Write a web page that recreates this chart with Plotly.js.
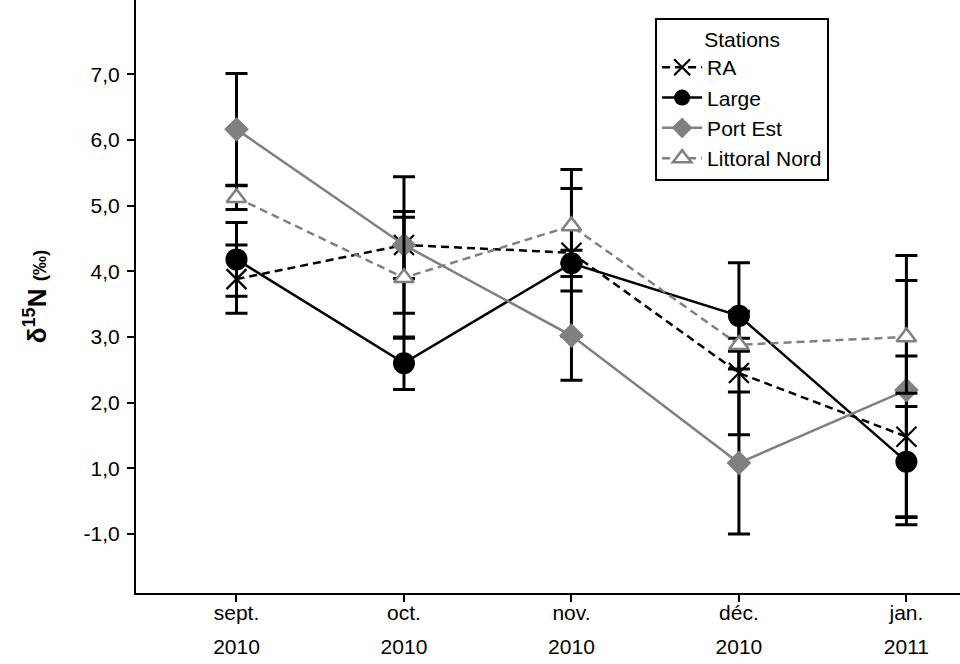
<!DOCTYPE html>
<html>
<head>
<meta charset="utf-8">
<script src="https://cdn.plot.ly/plotly-3.0.1.min.js"></script>
<style>html,body{margin:0;padding:0;background:#fff;}#chart{width:960px;height:664px;}</style>
</head>
<body>
<div id="chart"></div>
<script>
// ---- data ----
const months = ['sept.', 'oct.', 'nov.', 'déc.', 'jan.'];
const years = ['2010', '2010', '2010', '2010', '2011'];

const raMean = [3.88, 4.40, 4.28, 2.45, 1.48];
const raErr = [0.52, 1.04, 1.27, 0.94, 1.23];

const largeMean = [4.18, 2.60, 4.12, 3.32, 1.10];
const largeErr = [0.56, 0.40, 0.20, 0.81, 0.84];

const portEstMean = [6.16, 4.40, 3.02, 1.08, 2.19];
const portEstErr = [0.85, 0.51, 0.68, 1.08, 2.05];

const littoralMean = [5.12, 3.90, 4.69, 2.88, 3.00];
const littoralErr = [0.18, 0.92, 0.57, 0.10, 0.86];

const yTickVals = [0, 1, 2, 3, 4, 5, 6, 7];
const yTickText = ['-1,0', '1,0', '2,0', '3,0', '4,0', '5,0', '6,0', '7,0'];

// ---- chart ----
const xIdx = months.map((m, i) => i);
const GRAY = '#808080';
const FONT = 'Liberation Sans, Arial, sans-serif';

function err(arr) {
  return {type: 'data', array: arr, visible: true, color: '#000', thickness: 3, width: 11};
}

const traces = [
  {
    name: 'RA', x: xIdx, y: raMean, mode: 'lines+markers', error_y: err(raErr),
    line: {color: '#000', width: 2.5, dash: '8px,5px'},
    marker: {symbol: 'x-thin-open', size: 20, color: '#000', line: {color: '#000', width: 2.2}}
  },
  {
    name: 'Large', x: xIdx, y: largeMean, mode: 'lines+markers', error_y: err(largeErr),
    line: {color: '#000', width: 2.5},
    marker: {symbol: 'circle', size: 22, color: '#000'}
  },
  {
    name: 'Port Est', x: xIdx, y: portEstMean, mode: 'lines+markers', error_y: err(portEstErr),
    line: {color: GRAY, width: 2.5},
    marker: {symbol: 'diamond', size: 19, color: GRAY}
  },
  {
    name: 'Littoral Nord', x: xIdx, y: littoralMean, mode: 'lines+markers', error_y: err(littoralErr),
    line: {color: GRAY, width: 2.5, dash: '8px,5px'},
    marker: {symbol: 'triangle-up', size: 17, color: '#fff', line: {color: GRAY, width: 2.5}}
  },
  {
    x: [0], y: [null], xaxis: 'x2', showlegend: false, hoverinfo: 'skip', mode: 'markers'
  }
];

const xRange = [-0.6, 4.32];

const layout = {
  width: 960, height: 664,
  margin: {l: 136, r: 0, t: 0, b: 71, pad: 0},
  paper_bgcolor: '#fff', plot_bgcolor: '#fff',
  font: {family: FONT, size: 21, color: '#000'},
  showlegend: true,
  xaxis: {
    type: 'linear', range: xRange, tickmode: 'array', tickvals: xIdx, ticktext: months,
    showgrid: false, zeroline: false, showline: true, linecolor: '#000', linewidth: 2,
    ticks: 'outside', ticklen: 7, tickwidth: 2, tickcolor: '#000',
    ticklabelstandoff: -7,
    tickfont: {family: FONT, size: 21, color: '#000'}, fixedrange: true
  },
  xaxis2: {
    type: 'linear', range: xRange, overlaying: 'x', anchor: 'y', side: 'bottom',
    tickmode: 'array', tickvals: xIdx, ticktext: years,
    showgrid: false, zeroline: false, showline: false, ticks: '',
    ticklabelstandoff: 39,
    tickfont: {family: FONT, size: 21, color: '#000'}, fixedrange: true
  },
  yaxis: {
    range: [-0.9, 8.13], tickmode: 'array', tickvals: yTickVals, ticktext: yTickText,
    showgrid: false, zeroline: false, showline: true, linecolor: '#000', linewidth: 2,
    ticks: 'outside', ticklen: 7, tickwidth: 2, tickcolor: '#000',
    ticklabelstandoff: 3,
    tickfont: {family: FONT, size: 21, color: '#000'},
    title: {
      text: '<b>δ<sup>15</sup>N <span style="font-size:19px">(‰)</span></b>',
      font: {family: FONT, size: 26, color: '#000'}, standoff: 30
    },
    fixedrange: true
  },
  legend: {
    x: 0.63, y: 0.97, xanchor: 'left', yanchor: 'top',
    bgcolor: '#fff', bordercolor: '#000', borderwidth: 2,
    font: {family: FONT, size: 21, color: '#000'},
    itemwidth: 40,
    title: {text: 'Stations', side: 'top center', font: {family: FONT, size: 21, color: '#000'}},
    tracegroupgap: 0
  }
};

Plotly.newPlot('chart', traces, layout, {displayModeBar: false, staticPlot: true});
</script>
</body>
</html>
